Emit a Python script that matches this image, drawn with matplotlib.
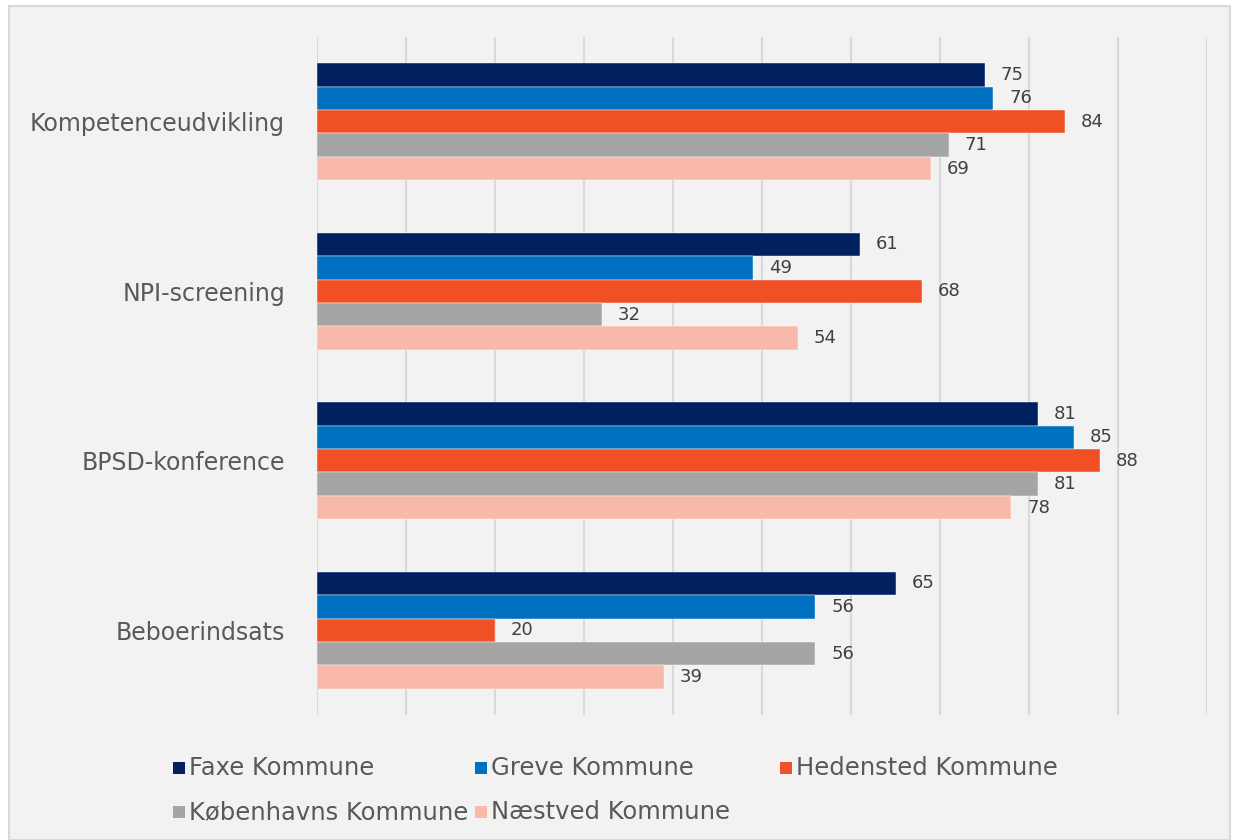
import matplotlib
matplotlib.use("Agg")
import matplotlib.pyplot as plt
import numpy as np
from matplotlib.patches import Rectangle

categories = ["Kompetenceudvikling", "NPI-screening", "BPSD-konference", "Beboerindsats"]
series_names = ["Faxe Kommune", "Greve Kommune", "Hedensted Kommune",
                "Københavns Kommune", "Næstved Kommune"]
faxe = [75, 61, 81, 65]
greve = [76, 49, 85, 56]
hedensted = [84, 68, 88, 20]
kobenhavn = [71, 32, 81, 56]
naestved = [69, 54, 78, 39]
series_values = [faxe, greve, hedensted, kobenhavn, naestved]
colors = ["#002060", "#0070C0", "#F05023", "#A5A5A5", "#F8B9A8"]

W, H = 1238, 840
fig = plt.figure(figsize=(W / 100, H / 100), dpi=100, facecolor="white")
bg = Rectangle((9 / W, 0), (1230 - 9) / W, (H - 6) / H,
               transform=fig.transFigure, facecolor="#F2F2F2",
               edgecolor="#D9D9D9", linewidth=1.5, zorder=-10)
fig.add_artist(bg)

ax = fig.add_axes([317 / W, 1 - 715 / H, (1207 - 317) / W, (715 - 37) / H])
ax.set_facecolor("none")
ax.set_zorder(1)

n = len(series_names)
bh = 0.1386
y = np.arange(len(categories))
for i, (name, vals, c) in enumerate(zip(series_names, series_values, colors)):
    ypos = y - (n - 1) / 2 * bh + i * bh
    ax.barh(ypos, vals, height=bh, color=c, label=name, zorder=3,
            edgecolor="white", linewidth=0.3)
    for yy, v in zip(ypos, vals):
        ax.annotate(f"{v}", (v, yy), xytext=(11.5, 0), textcoords="offset points",
                    va="center", ha="left", fontsize=13, color="#404040")

ax.set_xlim(0, 100)
ax.set_ylim(len(categories) - 0.5, -0.5)
ax.set_xticks(np.arange(0, 101, 10))
ax.set_xticklabels([])
ax.tick_params(axis="x", length=0)
ax.grid(axis="x", color="#D9D9D9", linewidth=1.5, zorder=0)
ax.set_yticks(y)
ax.set_yticklabels(categories, fontsize=17, color="#595959")
ax.tick_params(axis="y", length=0, pad=23)
for s in ax.spines.values():
    s.set_visible(False)

# legend (Excel-style, row-wise, equal column widths)
col_x = [173, 475, 780]
row_y = [768, 812]
sq = 12
for k, (nm, c) in enumerate(zip(series_names, colors)):
    r, cidx = divmod(k, 3)
    x0, yc = col_x[cidx], row_y[r]
    fig.add_artist(Rectangle((x0 / W, 1 - (yc + sq / 2) / H), sq / W, sq / H,
                             transform=fig.transFigure, facecolor=c,
                             edgecolor="none"))
    fig.text((x0 + sq + 4) / W, 1 - yc / H, nm, fontsize=17.5, color="#595959",
             va="center", ha="left")

fig.savefig("out.png", dpi=100, facecolor="white")
